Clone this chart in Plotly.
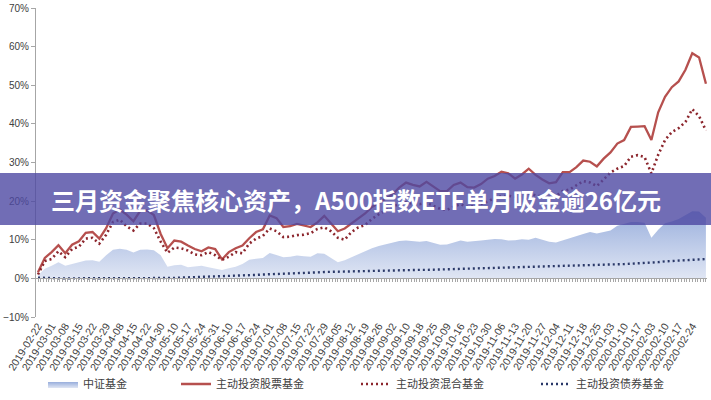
import plotly.graph_objects as go

# tick labels (one every 5 trading days)
tick_dates = ["2019-02-22","2019-03-01","2019-03-08","2019-03-15","2019-03-22","2019-03-29",
              "2019-04-08","2019-04-15","2019-04-22","2019-04-30","2019-05-10","2019-05-17",
              "2019-05-24","2019-05-31","2019-06-10","2019-06-17","2019-06-24","2019-07-01",
              "2019-07-08","2019-07-15","2019-07-22","2019-07-29","2019-08-05","2019-08-12",
              "2019-08-19","2019-08-26","2019-09-02","2019-09-10","2019-09-18","2019-09-25",
              "2019-10-09","2019-10-16","2019-10-23","2019-10-30","2019-11-06","2019-11-13",
              "2019-11-20","2019-11-27","2019-12-04","2019-12-11","2019-12-18","2019-12-25",
              "2020-01-03","2020-01-10","2020-01-17","2020-02-03","2020-02-10","2020-02-17",
              "2020-02-24"]

# sample positions, in units of label ticks (every half tick)
pos = [i * 0.5 for i in range(99)]

zz_fund = [0.8, 2.5, 3.3, 4.2, 3.3, 3.8, 4.2, 4.6, 4.7, 4.3,
           6.0, 7.4, 7.7, 7.4, 6.7, 7.4, 7.5, 7.3, 6.0, 3.0,
           3.4, 3.5, 2.9, 3.1, 3.3, 2.9, 2.6, 2.2, 2.6, 3.0,
           3.7, 4.8, 5.1, 5.3, 6.6, 6.0, 5.5, 5.6, 5.9, 5.7,
           5.6, 6.5, 6.4, 5.3, 4.2, 4.7, 5.5, 6.1,
           7.0, 7.8, 8.4, 8.8, 9.2, 9.7, 9.8, 9.6, 9.5, 9.7,
           9.2, 8.7, 8.8, 9.4, 9.8, 9.5, 9.6, 9.8, 10.0, 10.2,
           10.1, 9.8, 9.9, 10.1, 10.0, 10.5, 10.0, 9.5, 9.3, 9.9,
           10.3, 10.9, 11.5, 12.0, 11.6, 12.0, 12.4, 13.6, 14.2, 14.6,
           14.6, 14.4, 10.5, 12.6, 14.3, 14.7, 15.4, 16.3, 17.4, 17.3,
           15.7]

stock_fund = [1.6, 5.3, 6.8, 8.6, 6.5, 8.7, 9.6, 11.8, 12.0, 10.3,
              13.0, 16.8, 17.8, 16.5, 14.8, 17.5, 17.6, 16.4, 11.5, 7.8,
              9.8, 9.5, 8.5, 7.6, 7.0, 8.0, 7.6, 4.9, 6.8, 7.8,
              8.5, 10.4, 12.0, 12.7, 16.3, 15.6, 13.3, 13.5, 14.1, 13.7,
              13.3, 14.5, 16.2, 14.2, 12.2, 12.9, 14.2, 15.5,
              16.8, 18.5, 19.6, 20.5, 21.7, 23.5, 24.8, 24.2, 23.8, 25.0,
              23.7, 22.6, 22.6, 24.2, 24.8, 23.6, 23.5, 24.4, 25.8, 26.5,
              27.6, 27.2, 25.8, 26.9, 28.4, 26.8, 25.6, 24.6, 24.9, 27.5,
              27.5, 28.8, 30.5, 30.2, 29.0, 31.0, 32.6, 34.9, 35.8, 39.2,
              39.3, 39.4, 35.8, 43.0, 47.0, 49.5, 51.0, 54.0, 58.3, 57.2,
              50.4]

mixed_fund = [1.0, 4.5, 5.0, 7.0, 5.5, 7.6, 8.2, 10.3, 10.5, 9.0,
              11.3, 14.6, 15.2, 13.5, 12.4, 14.2, 14.2, 13.0, 9.5, 6.6,
              8.0, 7.8, 7.2, 6.2, 6.0, 6.8, 6.0, 4.8, 5.6, 6.8,
              6.5, 9.0, 10.3, 11.0, 12.9, 12.2, 10.7, 10.8, 11.2, 11.3,
              11.7, 12.8, 13.2, 12.2, 10.5, 10.0, 12.0, 13.2,
              13.8, 15.4, 16.6, 17.5, 18.6, 19.2, 19.7, 19.3, 19.2, 19.6,
              18.9, 18.0, 17.7, 18.6, 19.2, 18.5, 18.7, 19.3, 19.9, 20.8,
              21.3, 21.4, 21.1, 21.5, 22.0, 21.5, 21.2, 21.0, 21.3, 22.6,
              23.0, 24.0, 25.2, 24.8, 23.9, 25.6, 27.4, 28.4, 29.1, 31.5,
              31.9, 31.4, 27.2, 32.0, 35.8, 37.9, 38.9, 40.5, 43.8, 42.0,
              38.3]

bond_fund = [0.2, 0.1, 0.1, 0.0, 0.0, 0.0, 0.0, 0.0, 0.0, 0.0,
             0.0, 0.0, 0.0, 0.0, 0.0, 0.0, 0.0, 0.0, 0.0, 0.05,
             0.1, 0.2, 0.25, 0.3, 0.35, 0.4, 0.5, 0.55, 0.6, 0.7,
             0.75, 0.85, 0.9, 1.0, 1.05, 1.1, 1.2, 1.25, 1.35, 1.4,
             1.5, 1.55, 1.65, 1.7, 1.75, 1.8, 1.85, 1.9,
             1.95, 2.0, 2.0, 2.05, 2.1, 2.1, 2.15, 2.15, 2.2, 2.2, 2.25, 2.3,
             2.3, 2.35, 2.4, 2.45, 2.5, 2.5, 2.55, 2.6, 2.6, 2.65,
             2.7, 2.75, 2.8, 2.85, 2.9, 2.95, 3.0, 3.05, 3.1, 3.2,
             3.3, 3.35, 3.4, 3.5, 3.55, 3.6, 3.7, 3.8, 3.9, 4.0,
             4.0, 4.2, 4.4, 4.5, 4.6, 4.7, 4.8, 4.9, 5.0]

names = ["中证基金", "主动投资股票基金", "主动投资混合基金", "主动投资债券基金"]
title_text = "三月资金聚焦核心资产，A500指数ETF单月吸金逾26亿元"

W, H = 711, 400
ML, MR, MT, MB = 36, 4, 8, 83
PW, PH = W - ML - MR, H - MT - MB
XR = [-0.147, 49.08]


def px_x(x):
    return (x - ML) / PW


def px_y(y):
    return (H - MB - y) / PH


fig = go.Figure()
fig.add_trace(go.Scatter(
    x=pos, y=zz_fund, name=names[0], mode="lines", fill="tozeroy",
    line=dict(width=0, color="rgba(170,188,225,1)"),
    fillgradient=dict(type="vertical", start=0, stop=18,
                      colorscale=[[0, "rgb(224,230,244)"], [1, "rgb(152,174,220)"]]),
    legend="legend"))
fig.add_trace(go.Scatter(
    x=pos, y=stock_fund, name=names[1], mode="lines",
    line=dict(width=2.3, color="rgb(182,80,78)"), legend="legend2"))
fig.add_trace(go.Scatter(
    x=pos, y=mixed_fund, name=names[2], mode="lines",
    line=dict(width=2.6, color="rgb(140,38,45)", dash="2px,3px"), legend="legend3"))
fig.add_trace(go.Scatter(
    x=pos, y=bond_fund, name=names[3], mode="lines", xaxis="x2",
    line=dict(width=2.4, color="rgb(42,56,104)", dash="2px,3px"), legend="legend4"))

leg_font = dict(family="Noto Sans CJK SC", size=11, color="#404040")
legs = {}
for key, lx in zip(["legend", "legend2", "legend3", "legend4"], [43, 176, 356, 536]):
    legs[key] = dict(orientation="h", xref="container", yref="container",
                     x=lx / W, y=(H - 384) / H, xanchor="left", yanchor="middle",
                     font=leg_font, bgcolor="rgba(0,0,0,0)", itemwidth=30)

fig.update_layout(
    width=W, height=H,
    margin=dict(l=ML, r=MR, t=MT, b=MB, autoexpand=False),
    paper_bgcolor="white", plot_bgcolor="white",
    showlegend=True,
    xaxis=dict(range=XR, tickmode="array", tickvals=list(range(len(tick_dates))),
               ticktext=tick_dates, tickangle=-58, showline=False, ticks="",
               showgrid=False, zeroline=False, automargin=False,
               tickfont=dict(family="Liberation Sans", size=10.5, color="#404040")),
    xaxis2=dict(range=XR, overlaying="x", anchor="free", position=0.125, side="bottom",
                showline=True, linecolor="#a6a6a6", linewidth=1,
                ticks="outside", ticklen=3, tickcolor="#a6a6a6", tickwidth=1,
                tickmode="linear", tick0=0, dtick=0.2, showticklabels=False,
                showgrid=False, zeroline=False),
    yaxis=dict(range=[-10, 70], dtick=10, ticksuffix="%", showline=True,
               linecolor="#a6a6a6", linewidth=1, ticks="outside", ticklen=4,
               tickcolor="#a6a6a6", showgrid=False, zeroline=False, automargin=False,
               tickfont=dict(family="Liberation Sans", size=10, color="#404040")),
    shapes=[dict(type="rect", xref="paper", yref="paper",
                 x0=px_x(0), x1=px_x(W), y0=px_y(225), y1=px_y(173),
                 fillcolor="rgba(78,72,162,0.8)", line=dict(width=0), layer="above")],
    annotations=[dict(text="<b>" + title_text + "</b>", xref="paper", yref="paper",
                      x=px_x(356), y=px_y(199), xanchor="center", yanchor="middle",
                      showarrow=False,
                      font=dict(family="Noto Sans CJK SC", size=24, color="white"))],
    **legs,
)

fig.write_html("out.html", config={"displayModeBar": False},
               post_script="document.body.style.margin='0';document.body.style.padding='0';")
